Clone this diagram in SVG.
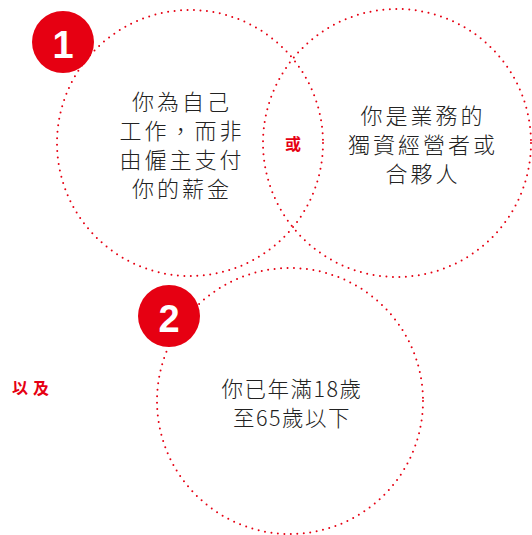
<svg xmlns="http://www.w3.org/2000/svg" width="532" height="535" viewBox="0 0 532 535">
<style>
.ring{fill:none;stroke:#e60012;stroke-width:2;stroke-dasharray:0 6.5;stroke-linecap:round}
.badge{fill:#e60012}
.num{fill:#fff;font-family:"Liberation Sans",Arial,sans-serif;font-weight:bold;font-size:38px;text-anchor:middle}
.t{fill:#222;font-family:"Noto Sans CJK TC","Noto Sans CJK SC",sans-serif;font-size:22px;letter-spacing:3px;text-anchor:middle;font-weight:300}
.t3{fill:#222;font-family:"Noto Sans CJK TC","Noto Sans CJK SC",sans-serif;font-size:21.5px;letter-spacing:1.5px;text-anchor:middle;font-weight:300}
.red{fill:#e60012;font-family:"Noto Sans CJK TC","Noto Sans CJK SC",sans-serif;font-weight:bold;font-size:16px;text-anchor:middle}
</style>
<rect width="532" height="535" fill="#fff"/>
<g id="circle1">
<circle class="ring" cx="190" cy="143" r="133"/>
<text class="t" x="182" y="110">你為自己</text>
<text class="t" x="182" y="139">工作，而非</text>
<text class="t" x="182" y="168">由僱主支付</text>
<text class="t" x="182" y="197">你的薪金</text>
</g>
<g id="circle2">
<circle class="ring" cx="397" cy="143" r="134"/>
<text class="t" x="423" y="124">你是業務的</text>
<text class="t" x="423" y="153">獨資經營者或</text>
<text class="t" x="423" y="182">合夥人</text>
</g>
<g id="circle3">
<circle class="ring" cx="290" cy="401" r="133"/>
<text class="t3" x="292" y="397">你已年滿18歲</text>
<text class="t3" x="292" y="426">至65歲以下</text>
</g>
<g id="badge1">
<circle class="badge" cx="63" cy="42" r="31"/>
<text class="num" x="63" y="58">1</text>
</g>
<g id="badge2">
<circle class="badge" cx="169" cy="316" r="31"/>
<text class="num" x="169" y="332">2</text>
</g>
<g id="or"><text class="red" x="293" y="150">或</text></g>
<g id="and"><text class="red" x="33" y="394" letter-spacing="5">以及</text></g>
</svg>
